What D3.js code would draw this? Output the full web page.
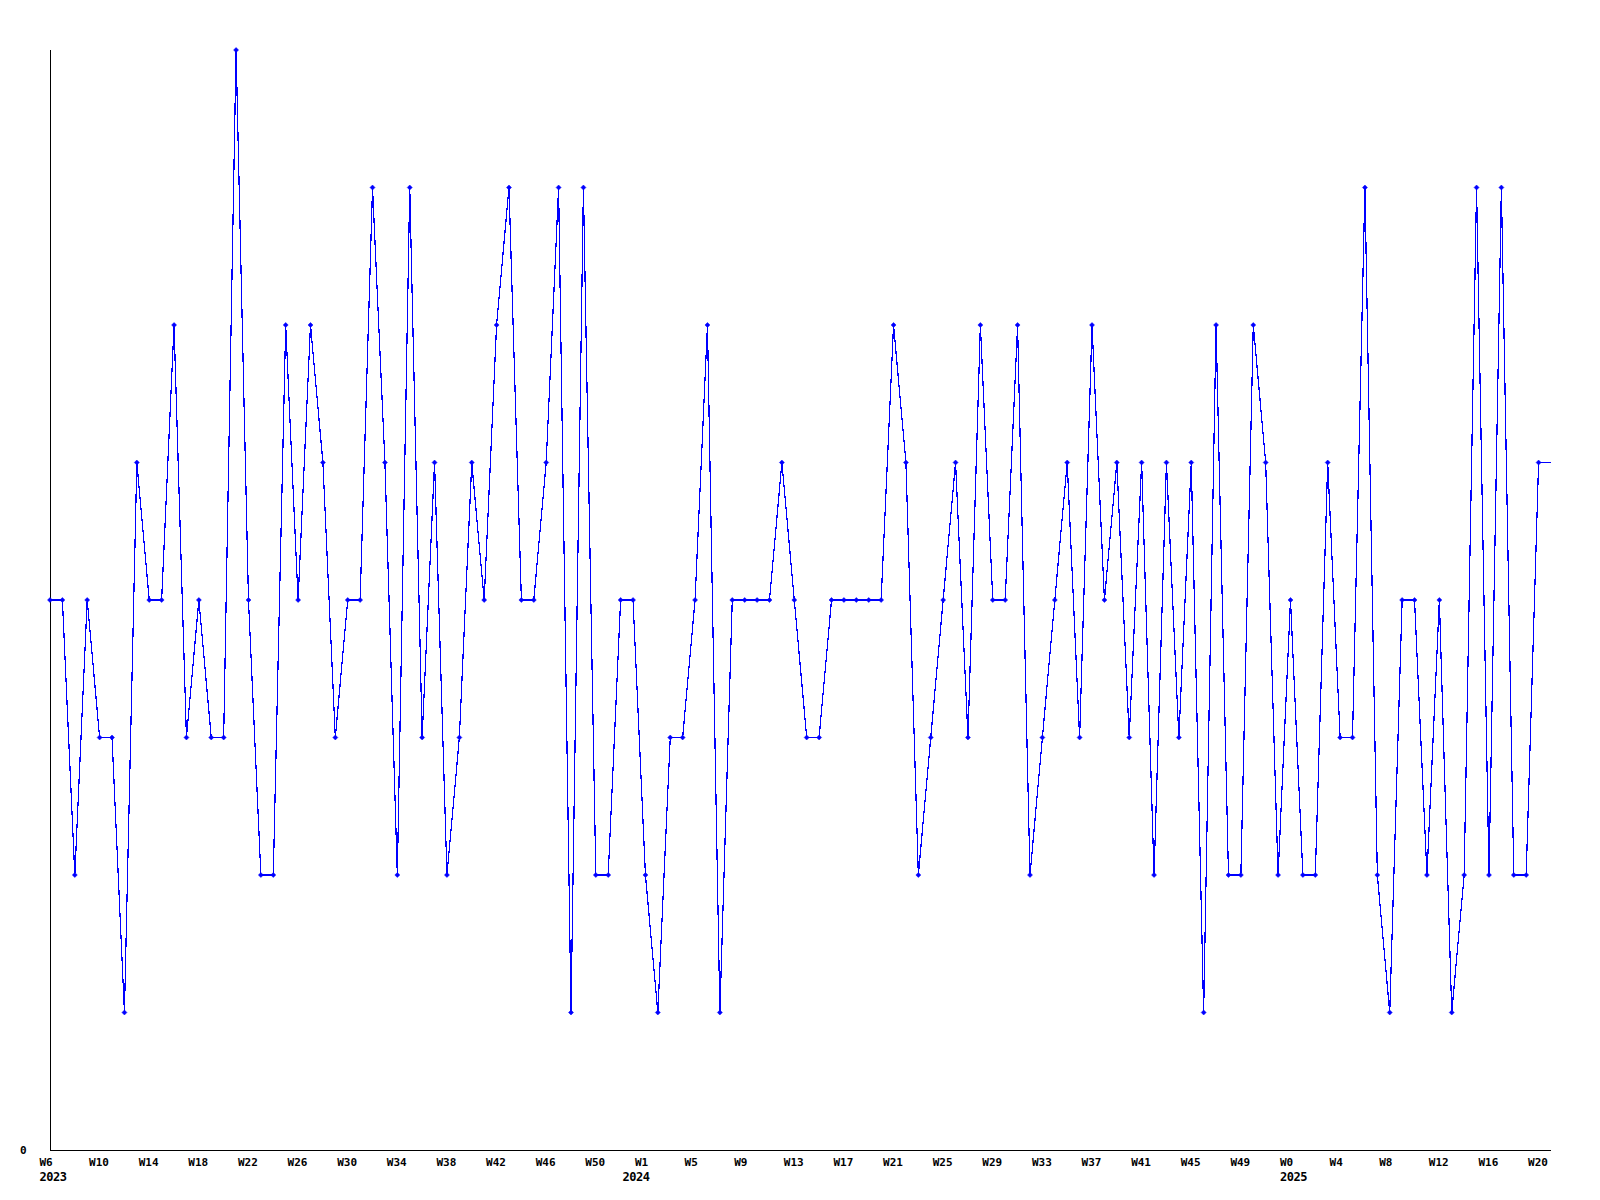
<!DOCTYPE html>
<html>
<head>
<meta charset="utf-8">
<script src="https://cdn.jsdelivr.net/npm/d3@7"></script>
<style>
  html, body { margin: 0; padding: 0; background: #fff; }
  svg { display: block; }
  text { font-family: "DejaVu Sans Mono", "Liberation Mono", monospace; font-weight: bold; fill: #000; }
</style>
</head>
<body>
<svg id="chart" width="1600" height="1200"></svg>
<script>
// Weekly values (index 0 = W6 2023)
const values = [
  4, 4, 2, 4, 3, 3, 1, 5, 4, 4,
  6, 3, 4, 3, 3, 8, 4, 2, 2, 6,
  4, 6, 5, 3, 4, 4, 7, 5, 2, 7,
  3, 5, 2, 3, 5, 4, 6, 7, 4, 4,
  5, 7, 1, 7, 2, 2, 4, 4, 2, 1,
  3, 3, 4, 6, 1, 4, 4, 4, 4, 5,
  4, 3, 3, 4, 4, 4, 4, 4, 6, 5,
  2, 3, 4, 5, 3, 6, 4, 4, 6, 2,
  3, 4, 5, 3, 6, 4, 5, 3, 5, 2,
  5, 3, 5, 1, 6, 2, 2, 6, 5, 2,
  4, 2, 2, 5, 3, 3, 7, 2, 1, 4,
  4, 2, 4, 1, 2, 7, 2, 7, 2, 2,
  5
];

// Week tick labels, one every 4 points
const weekTickIndex = [0, 4, 8, 12, 16, 20, 24, 28, 32, 36, 40, 44, 48, 52, 56, 60,
  64, 68, 72, 76, 80, 84, 88, 92, 96, 100, 104, 108, 112, 116, 120];
const weekTickLabels = ["W6", "W10", "W14", "W18", "W22", "W26", "W30", "W34", "W38",
  "W42", "W46", "W50", "W1", "W5", "W9", "W13", "W17", "W21", "W25", "W29", "W33",
  "W37", "W41", "W45", "W49", "W0", "W4", "W8", "W12", "W16", "W20"];

// Year labels at the first point of each year
const yearStartIndex = [0, 47, 100];
const yearLabels = ["2023", "2024", "2025"];

const yMax = 8;
const xMax = values.length; // axis runs one step past the last point

const mLeft = 50, mRight = 1551, mTop = 50, mBottom = 1150;

const svg = d3.select("#chart");

const x = d3.scaleLinear().domain([0, xMax]).range([mLeft, mRight]);
const y = d3.scaleLinear().domain([0, yMax]).range([mBottom, mTop]);

// Axes lines
svg.append("line")
  .attr("x1", mLeft + 0.5).attr("x2", mLeft + 0.5)
  .attr("y1", mTop).attr("y2", mBottom + 0.5)
  .attr("stroke", "#000").attr("stroke-width", 1)
  .attr("shape-rendering", "crispEdges");
svg.append("line")
  .attr("x1", mLeft).attr("x2", mRight)
  .attr("y1", mBottom + 0.5).attr("y2", mBottom + 0.5)
  .attr("stroke", "#000").attr("stroke-width", 1)
  .attr("shape-rendering", "crispEdges");

// Y label "0"
svg.append("text")
  .attr("x", 20).attr("y", y(0) + 4)
  .attr("font-size", 11)
  .text("0");

// Week labels
svg.append("g").selectAll("text")
  .data(weekTickIndex)
  .join("text")
  .attr("x", d => x(d) - 10.5)
  .attr("y", 1166)
  .attr("font-size", 11)
  .text((d, i) => weekTickLabels[i]);

// Year labels
svg.append("g").selectAll("text")
  .data(yearStartIndex)
  .join("text")
  .attr("x", d => x(d) - 10.5)
  .attr("y", 1181)
  .attr("font-size", 12)
  .attr("letter-spacing", -0.5)
  .text((d, i) => yearLabels[i]);

// Data line
const line = d3.line()
  .x((d, i) => x(i))
  .y(d => y(d));

svg.append("path")
  .datum(values)
  .attr("d", line)
  .attr("fill", "none")
  .attr("stroke", "#0000ff")
  .attr("stroke-width", 1.2)
  .attr("shape-rendering", "crispEdges");

// Continuation of the last value to the end of the axis
const lastIdx = values.length - 1;
svg.append("line")
  .attr("x1", x(lastIdx)).attr("x2", x(xMax))
  .attr("y1", y(values[lastIdx])).attr("y2", y(values[lastIdx]))
  .attr("stroke", "#0000ff")
  .attr("stroke-width", 1)
  .attr("shape-rendering", "crispEdges");

// Markers
svg.append("g").selectAll("path")
  .data(values)
  .join("path")
  .attr("transform", (d, i) => `translate(${x(i)},${y(d)})`)
  .attr("d", "M0,-2.5L2.5,0L0,2.5L-2.5,0Z")
  .attr("fill", "#0000ff")
  .attr("stroke", "#0000ff")
  .attr("stroke-width", 0.5);
</script>
</body>
</html>
